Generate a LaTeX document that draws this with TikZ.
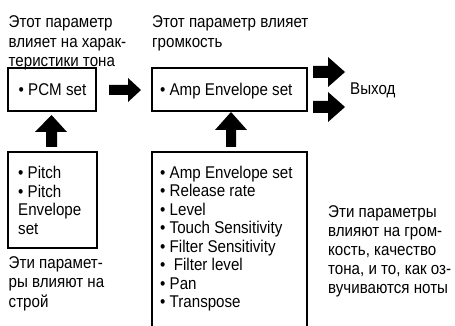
\documentclass[tikz,border=0pt]{standalone}
\usepackage{fontspec}
\setmainfont{Liberation Sans}[FakeStretch=0.89]
\begin{document}
\begin{tikzpicture}[x=1pt,y=-1pt,
  every node/.style={font=\fontsize{17}{19.5}\selectfont},
  box/.style={draw,line width=2pt,inner sep=0pt},
  lbl/.style={anchor=base west,align=left,inner sep=0pt},
  blk/.style={fill=black,draw=none}]
\useasboundingbox (0,0) rectangle (455,326);
\begin{scope}
\clip (0,0) rectangle (455,326);
% top labels (base anchor = baseline of the last line)
\node[lbl] (t1) at (8.5,66.7) {Этот параметр\\влияет на харак-\\теристики тона};
\node[lbl] (t2) at (152,47.4) {Этот параметр влияет\\громкость};
% main boxes
\node[box,minimum width=88pt,minimum height=43pt] (pcm) at (52.3,89.6) {};
\node[anchor=base,inner sep=0pt] (pcmt) at (52.5,96) {• PCM set};
\node[box,minimum width=155.5pt,minimum height=43pt] (amp) at (229.5,89.6) {};
\node[anchor=base,inner sep=0pt] (ampt) at (226.3,96) {• Amp Envelope set};
% lower boxes
\node[box,minimum width=88.5pt,minimum height=96pt] (pitch) at (52.4,200) {};
\node[lbl,font=\fontsize{17}{18.8}\selectfont] (pt) at (18,234.7) {• Pitch\\• Pitch\\Envelope\\set};
\node[box,minimum width=155.5pt,minimum height=200pt] (big) at (229.5,252) {};
\node[lbl,font=\fontsize{17}{18.45}\selectfont] (bt) at (160,307.5) {• Amp Envelope set\\• Release rate\\• Level\\• Touch Sensitivity\\• Filter Sensitivity\\•\ \ Filter level\\• Pan\\• Transpose};
\end{scope}
% bottom labels
\node[lbl,font=\fontsize{17}{19.4}\selectfont] (b1) at (8.5,307.1) {Эти парамет-\\ры влияют на\\строй};
\node[lbl,font=\fontsize{17}{19}\selectfont] (b2) at (328,293.5) {Эти параметры\\влияют на гром-\\кость, качество\\тона, и то, как оз-\\вучиваются ноты};
\node[anchor=base west,inner sep=0pt] (out) at (350,95) {Выход};
% block arrows
\fill[blk] (109,85) -- (128,85) -- (128,78) -- (141,90) -- (128,102) -- (128,95) -- (109,95) -- cycle;
\fill[blk] (46,147) -- (46,132) -- (35,132) -- (51.5,115) -- (67,132) -- (57,132) -- (57,147) -- cycle;
\fill[blk] (226,147) -- (226,130) -- (215,130) -- (231,112) -- (247,130) -- (236,130) -- (236,147) -- cycle;
\fill[blk] (313,66) -- (328,66) -- (328,57) -- (345,72) -- (328,87) -- (328,78) -- (313,78) -- cycle;
\fill[blk] (313,101) -- (328,101) -- (328,92) -- (345,107) -- (328,122) -- (328,113) -- (313,113) -- cycle;
\end{tikzpicture}
\end{document}
